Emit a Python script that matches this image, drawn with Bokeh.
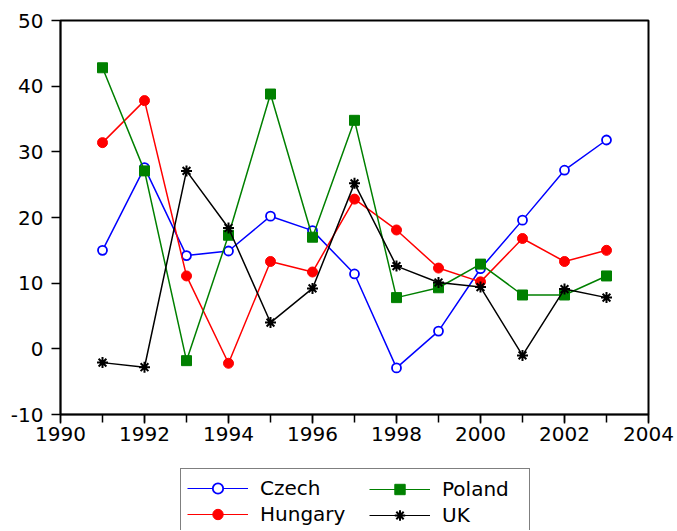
from bokeh.plotting import figure
from bokeh.layouts import column
from bokeh.models import Legend, LegendItem, Range1d, FixedTicker
from bokeh.embed import file_html
from bokeh.resources import INLINE

years = list(range(1991, 2004))
czech = [15.0, 27.6, 14.2, 14.9, 20.2, 18.0, 11.4, -2.9, 2.7, 12.2, 19.6, 27.2, 31.8]
hungary = [31.4, 37.8, 11.1, -2.2, 13.3, 11.7, 22.8, 18.1, 12.3, 10.2, 16.8, 13.3, 15.0]
poland = [42.8, 27.1, -1.8, 17.3, 38.8, 17.0, 34.8, 7.8, 9.3, 12.9, 8.2, 8.2, 11.1]
uk = [-2.1, -2.8, 27.1, 18.4, 4.0, 9.2, 25.2, 12.6, 10.1, 9.4, -1.0, 9.1, 7.8]
series_names = ["Czech", "Hungary", "Poland", "UK"]

x_ticks = [1990, 1992, 1994, 1996, 1998, 2000, 2002, 2004]
x_minor = list(range(1990, 2005))
y_ticks = [-10, 0, 10, 20, 30, 40, 50]
y_labels = {-10: "-10", 0: "0", 10: "10", 20: "20", 30: "30", 40: "40", 50: "50"}

FONT = "DejaVu Sans"
FS = "20px"

styles = {
    "Czech": dict(color="#0000FF", marker="circle", size=9, fill="white", mlw=1.8),
    "Hungary": dict(color="#FF0000", marker="circle", size=10, fill="#FF0000", mlw=1),
    "Poland": dict(color="#008000", marker="square", size=10, fill="#008000", mlw=1),
    "UK": dict(color="black", marker="asterisk", size=11, fill=None, mlw=2),
}
data = {"Czech": czech, "Hungary": hungary, "Poland": poland, "UK": uk}

# ---------------- main chart ----------------
p = figure(width=676, height=460, output_backend="svg", toolbar_location=None,
           x_range=Range1d(1990, 2004), y_range=Range1d(-10, 50),
           min_border_left=60, min_border_top=20, min_border_right=28,
           min_border_bottom=46)

p.xgrid.visible = False
p.ygrid.visible = False
p.outline_line_color = "black"
p.outline_line_width = 2
p.background_fill_color = "white"
p.border_fill_color = "white"

p.xaxis.ticker = FixedTicker(ticks=x_ticks, minor_ticks=x_minor)
p.yaxis.ticker = FixedTicker(ticks=y_ticks, minor_ticks=[])
p.yaxis.major_label_overrides = y_labels
for ax in (p.xaxis, p.yaxis):
    ax.axis_line_color = "black"
    ax.axis_line_width = 1.5
    ax.major_tick_line_width = 1.5
    ax.minor_tick_line_width = 1.5
    ax.major_tick_in = 0
    ax.major_tick_out = 9
    ax.minor_tick_in = 0
    ax.minor_tick_out = 8
    ax.major_label_text_font = FONT
    ax.major_label_text_font_size = FS
    ax.major_label_text_color = "black"
p.xaxis.major_label_standoff = 3
p.yaxis.major_label_standoff = 8

for name in series_names:
    s = styles[name]
    p.line(years, data[name], line_color=s["color"], line_width=1.5)
    p.scatter(years, data[name], marker=s["marker"], size=s["size"],
              line_color=s["color"], fill_color=s["fill"], line_width=s["mlw"])

# ---------------- legend strip (frame aligned with the chart's frame) ----------------
p2 = figure(width=676, height=70, output_backend="svg", toolbar_location=None,
            x_range=Range1d(0, 1), y_range=Range1d(0, 1),
            x_axis_location=None, y_axis_location=None,
            min_border_left=0, min_border_right=0, min_border_top=0,
            min_border_bottom=0)
p2.grid.visible = False
p2.outline_line_color = None
p2.background_fill_color = "white"
p2.border_fill_color = "white"

items = []
for name in series_names:
    s = styles[name]
    # same series, drawn out of this strip's view; used only for legend glyphs
    r1 = p2.line(years, data[name], line_color=s["color"], line_width=1.2)
    r2 = p2.scatter(years, data[name], marker=s["marker"], size=7,
                    line_color=s["color"], fill_color=s["fill"],
                    line_width=s["mlw"])
    items.append(LegendItem(label=name, renderers=[r1, r2]))


def make_legend(its, loc, label_width, border):
    lg = Legend(items=its, location=loc)
    lg.orientation = "vertical"
    lg.label_text_font = FONT
    lg.label_text_font_size = FS
    lg.label_text_color = "black"
    lg.glyph_width = 61
    lg.glyph_height = 26
    lg.label_height = 26
    lg.label_width = label_width
    lg.label_standoff = 12
    lg.padding = 6
    lg.spacing = 0
    lg.margin = 0
    if border:
        lg.border_line_color = "black"
        lg.border_line_width = 1.5
        lg.background_fill_color = "white"
        lg.background_fill_alpha = 1
    else:
        lg.border_line_color = None
        lg.background_fill_alpha = 0
    return lg


leg_a = make_legend(items[:2], (120, -4), 263, True)
leg_b = make_legend(items[2:], (309, 2), 20, False)
p2.add_layout(leg_a, "center")
p2.add_layout(leg_b, "center")

layout = column(p, p2, spacing=0)
open("out.html", "w").write(file_html(layout, INLINE))
